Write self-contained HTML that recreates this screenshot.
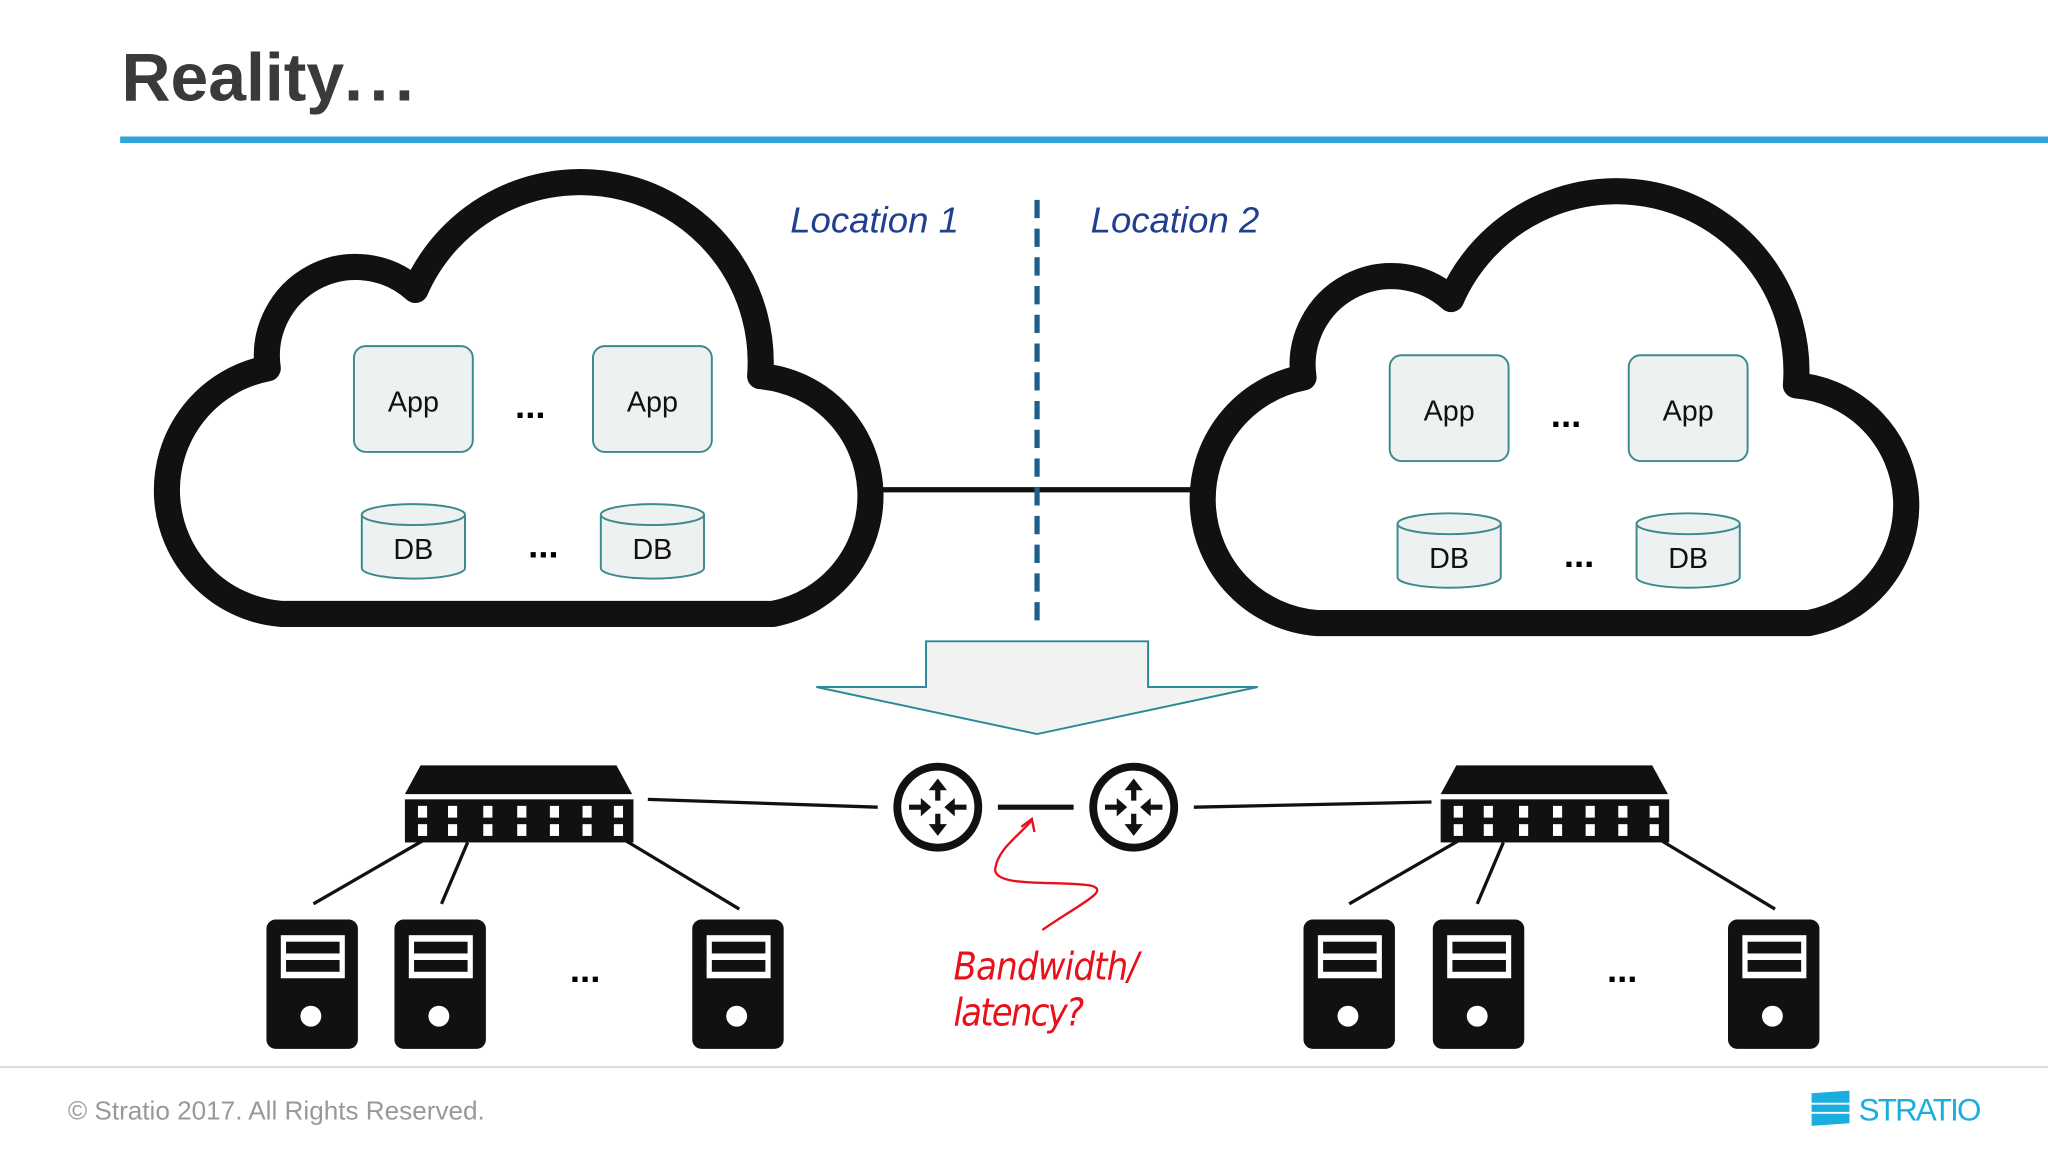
<!DOCTYPE html>
<html><head><meta charset="utf-8"><style>html,body{margin:0;padding:0;background:#fff}svg{display:block}</style></head>
<body>
<svg width="2048" height="1152" viewBox="0 0 1568 882" xmlns="http://www.w3.org/2000/svg" font-family="Liberation Sans, sans-serif">
<rect width="1568" height="882" fill="#fff"/>
<text x="93" y="77" font-size="52" font-weight="bold" fill="#3a3a3a">Reality<tspan letter-spacing="5">...</tspan></text>
<line x1="92" y1="107" x2="1568" y2="107" stroke="#2fa4db" stroke-width="5"/>
<defs>
<g id="cloud">
<path d="M 215,470 A 95 95 0 0 1 205,282 A 68 68 0 0 1 318,222 A 138 138 0 0 1 582,288 A 92 92 0 0 1 592,470 Z" fill="#fff" stroke="#111" stroke-width="20" stroke-linejoin="round"/>
</g>
<g id="app"><rect x="0" y="0" width="91" height="81" rx="9" fill="#eef1f1" stroke="#3d8a8e" stroke-width="1.5"/><text x="45.5" y="50" font-size="22" text-anchor="middle" fill="#111">App</text></g>
<g id="db"><path d="M0,9 V50 A39.5 8 0 0 0 79,50 V9" fill="#eef1f1" stroke="#3d8a8e" stroke-width="1.5"/><ellipse cx="39.5" cy="9" rx="39.5" ry="8" fill="#eef1f1" stroke="#3d8a8e" stroke-width="1.5"/><text x="39.5" y="43" font-size="22" text-anchor="middle" fill="#111">DB</text></g>
<g id="server"><rect x="0" y="0" width="70" height="99" rx="7" fill="#111"/><rect x="11" y="12" width="49" height="33" fill="#fff"/><rect x="15" y="17" width="41" height="9" fill="#111"/><rect x="15" y="31" width="41" height="9" fill="#111"/><circle cx="34" cy="74" r="8" fill="#fff"/></g>
<g id="switch"><polygon points="322,586 472,586 484,608 310,608" fill="#111"/><rect x="310" y="612" width="175" height="33" fill="#111"/>
<g fill="#fff"><rect x="320" y="617" width="7" height="9"/><rect x="343" y="617" width="7" height="9"/><rect x="370" y="617" width="7" height="9"/><rect x="396" y="617" width="7" height="9"/><rect x="421" y="617" width="7" height="9"/><rect x="446" y="617" width="7" height="9"/><rect x="470" y="617" width="7" height="9"/>
<rect x="320" y="631" width="7" height="9"/><rect x="343" y="631" width="7" height="9"/><rect x="370" y="631" width="7" height="9"/><rect x="396" y="631" width="7" height="9"/><rect x="421" y="631" width="7" height="9"/><rect x="446" y="631" width="7" height="9"/><rect x="470" y="631" width="7" height="9"/></g>
<g stroke="#111" stroke-width="2.5"><line x1="330" y1="640" x2="240" y2="692"/><line x1="358" y1="645" x2="338" y2="692"/><line x1="478" y1="643" x2="566" y2="696"/></g>
</g>
<g id="router"><circle cx="0" cy="0" r="31" fill="#fff" stroke="#111" stroke-width="6"/>
<g fill="#111"><polygon points="0,-22 -7,-13 -2,-13 -2,-5 2,-5 2,-13 7,-13"/><polygon points="0,22 -7,13 -2,13 -2,5 2,5 2,13 7,13"/><polygon points="-5,0 -13,-7 -13,-2 -22,-2 -22,2 -13,2 -13,7"/><polygon points="5,0 13,-7 13,-2 22,-2 22,2 13,2 13,7"/></g></g>
</defs>
<line x1="670" y1="375" x2="915" y2="375" stroke="#111" stroke-width="4"/>
<use href="#cloud"/>
<use href="#cloud" transform="translate(793,7)"/>
<use href="#app" x="271" y="265"/><use href="#app" x="454" y="265"/>
<use href="#db" x="277" y="385"/><use href="#db" x="460" y="385"/>
<text x="406" y="320" font-size="28" font-weight="bold" text-anchor="middle">...</text>
<text x="416" y="427" font-size="28" font-weight="bold" text-anchor="middle">...</text>
<use href="#app" x="1064" y="272"/><use href="#app" x="1247" y="272"/>
<use href="#db" x="1070" y="392"/><use href="#db" x="1253" y="392"/>
<text x="1199" y="327" font-size="28" font-weight="bold" text-anchor="middle">...</text>
<text x="1209" y="434" font-size="28" font-weight="bold" text-anchor="middle">...</text>
<line x1="794" y1="153" x2="794" y2="480" stroke="#1d5f8a" stroke-width="4" stroke-dasharray="14,8"/>
<text x="605" y="178" font-size="28" font-style="italic" fill="#1f3f8f">Location 1</text>
<text x="835" y="178" font-size="28" font-style="italic" fill="#1f3f8f">Location 2</text>
<polygon points="709,491 879,491 879,526 963,526 794,562 625,526 709,526" fill="#f2f2f2" stroke="#2a8a99" stroke-width="1.5"/>
<use href="#switch"/>
<use href="#switch" transform="translate(793,0)"/>
<g stroke="#111" stroke-width="2.5"><line x1="496" y1="612" x2="672" y2="618"/><line x1="914" y1="618" x2="1096" y2="614"/></g>
<line x1="764" y1="618" x2="822" y2="618" stroke="#111" stroke-width="4"/>
<use href="#router" x="718" y="618"/><use href="#router" x="868" y="618"/>
<use href="#server" x="204" y="704"/><use href="#server" x="302" y="704"/><use href="#server" x="530" y="704"/>
<use href="#server" x="998" y="704"/><use href="#server" x="1097" y="704"/><use href="#server" x="1323" y="704"/>
<text x="448" y="752" font-size="28" font-weight="bold" text-anchor="middle">...</text>
<text x="1242" y="752" font-size="28" font-weight="bold" text-anchor="middle">...</text>
<path d="M 798,712 C 830,690 850,682 835,678 C 810,674 760,680 762,665 C 764,650 780,640 790,628" fill="none" stroke="#e8101a" stroke-width="1.8"/>
<polyline points="782,633 790,627 792,637" fill="none" stroke="#e8101a" stroke-width="1.8"/>
<text x="730" y="750" font-size="29" font-style="italic" fill="#e8101a" font-family="DejaVu Sans Condensed, DejaVu Sans, sans-serif" textLength="142">Bandwidth/</text>
<text x="730" y="785" font-size="29" font-style="italic" fill="#e8101a" font-family="DejaVu Sans Condensed, DejaVu Sans, sans-serif" textLength="100">latency?</text>
<line x1="0" y1="817" x2="1568" y2="817" stroke="#ddd" stroke-width="1.5"/>
<text x="52" y="857" font-size="20" fill="#999">© Stratio 2017. All Rights Reserved.</text>
<path d="M1387,837 L1416,835 L1416,860 L1387,862 Z" fill="#1aaedf"/>
<g stroke="#fff" stroke-width="1.5"><line x1="1387" y1="845" x2="1416" y2="845"/><line x1="1387" y1="852" x2="1416" y2="852"/></g>
<text x="1423" y="858" font-size="24" fill="#1aaedf" textLength="94">STRATIO</text>
</svg>
</body></html>
